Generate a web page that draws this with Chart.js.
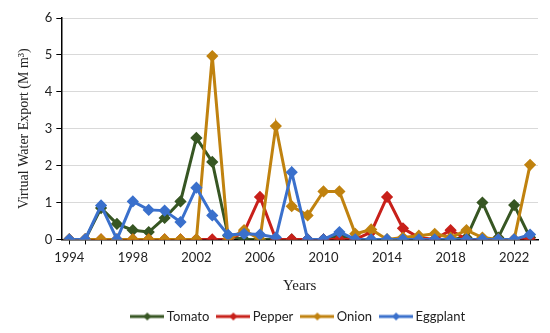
<!DOCTYPE html>
<html>
<head>
<meta charset="utf-8">
<script src="https://cdn.jsdelivr.net/npm/chart.js@4/dist/chart.umd.min.js"></script>
<style>
  html,body{margin:0;padding:0;background:#fff;}
  #wrap{width:550px;height:333px;position:relative;}
</style>
</head>
<body>
<div id="wrap"><canvas id="c"></canvas></div>
<script>
// years 1994-2023
const years = Array.from({length:30}, (_,i)=>String(1994+i));

// virtual water export, M m3
const tomato   = [0,0,0.85,0.42,0.25,0.2,0.58,1.03,2.75,2.1,0.1,0,0,0,0,0,0,0.1,0,0,0,0,0,0,0,0.05,1.0,0.05,0.93,0.05];
const pepper   = [0,0,0,0,0,0,0,0,0,0,0,0.2,1.15,0,0,0,0,0,0,0.2,1.15,0.3,0.05,0,0.25,0,0,0,0,0];
const onion    = [0,0,0,0,0,0,0,0,0,4.97,0,0.25,0,3.07,0.9,0.65,1.3,1.3,0.15,0.27,0,0.05,0.1,0.15,0.05,0.25,0.05,0,0,2.02];
const eggplant = [0,0,0.92,0,1.03,0.8,0.78,0.47,1.4,0.65,0.12,0.15,0.13,0.05,1.82,0,0,0.2,0,0,0,0,0,0,0,0,0,0,0,0.13];

const names  = ['Tomato','Pepper','Onion','Eggplant'];
const series = [tomato, pepper, onion, eggplant];
const colors = ['#375623','#C8201A','#C0820F','#3A70CC'];

// small line+diamond swatch for the legend (wider than the legend box so the text sits close)
function swatch(col){
  const cv = document.createElement('canvas');
  cv.width = 34; cv.height = 10;
  const g = cv.getContext('2d');
  g.strokeStyle = col; g.lineWidth = 3;
  g.beginPath(); g.moveTo(0,5); g.lineTo(34,5); g.stroke();
  g.fillStyle = col;
  g.beginPath(); g.moveTo(17,1); g.lineTo(21,5); g.lineTo(17,9); g.lineTo(13,5); g.closePath(); g.fill();
  return cv;
}

// last series on top (lower order = drawn later)
const datasets = series.map((d,i)=>({
  label:names[i], data:d, order:series.length-i,
  borderColor:colors[i], backgroundColor:colors[i],
  borderWidth:3, pointStyle:'rectRot', pointRadius:4, pointHoverRadius:4,
  tension:0, fill:false
}));

new Chart(document.getElementById('c'),{
  type:'line',
  data:{labels:years, datasets},
  options:{
    responsive:true, maintainAspectRatio:false, animation:false,
    layout:{padding:{top:18,right:12,left:12,bottom:0}},
    scales:{
      x:{
        offset:true,
        grid:{display:true, drawOnChartArea:false, drawTicks:true, tickLength:5, color:'#000'},
        border:{color:'#000', width:1.5},
        ticks:{autoSkip:false, maxRotation:0, color:'#222', font:{family:'Lato', size:13}, padding:6,
          callback:(v,i)=> i%4===0 ? years[i] : ''},
        title:{display:true, text:'Years', color:'#222', font:{family:'Liberation Serif', size:15}, padding:{top:5,bottom:4}}
      },
      y:{
        min:0, max:6,
        grid:{color:'#d9d9d9', tickLength:5, tickColor:'#000'},
        border:{color:'#000', width:1.5},
        ticks:{stepSize:1, color:'#222', font:{family:'Lato', size:13}, padding:4},
        title:{display:true, text:'Virtual Water Export (M m³)', color:'#222', font:{family:'Liberation Serif', size:14}, padding:{bottom:8}}
      }
    },
    plugins:{
      legend:{
        position:'bottom', fullSize:false,
        labels:{
          usePointStyle:true, pointStyleWidth:26, boxHeight:10, padding:11,
          color:'#222', font:{family:'Lato', size:13},
          sort:(a,b)=>a.datasetIndex-b.datasetIndex,
          generateLabels:(chart)=>{
            const items = Chart.defaults.plugins.legend.labels.generateLabels(chart);
            items.forEach(it=>{ it.pointStyle = swatch(colors[it.datasetIndex]); });
            return items;
          }
        }
      },
      tooltip:{enabled:false}
    }
  }
});
</script>
</body>
</html>
